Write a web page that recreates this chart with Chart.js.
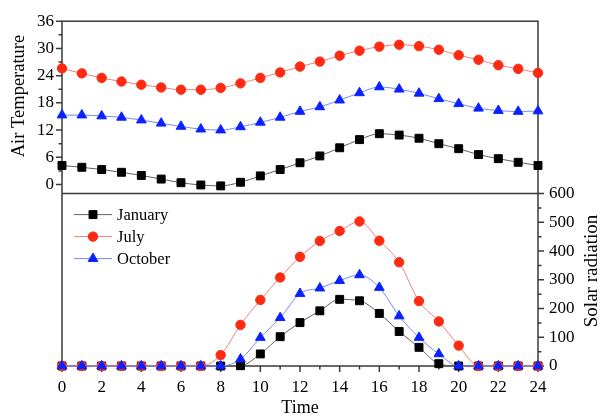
<!DOCTYPE html>
<html>
<head>
<meta charset="utf-8">
<script src="https://cdn.jsdelivr.net/npm/chart.js@4.4.1/dist/chart.umd.min.js"></script>
<style>
  html, body { margin: 0; padding: 0; background: #fff; }
  #wrap { width: 605px; height: 417px; }
</style>
</head>
<body>
<div id="wrap"><canvas id="chart" width="605" height="417"></canvas></div>
<script>
// Values
const hours = [0, 1, 2, 3, 4, 5, 6, 7, 8, 9, 10, 11, 12, 13, 14, 15, 16, 17, 18, 19, 20, 21, 22, 23, 24];
const hourTicks = [0, 2, 4, 6, 8, 10, 12, 14, 16, 18, 20, 22, 24];
const tempTicks = [0, 6, 12, 18, 24, 30, 36];
const radTicks = [0, 100, 200, 300, 400, 500, 600];
const seriesNames = ['January', 'July', 'October'];

const janTemp = [4.2, 3.8, 3.3, 2.7, 2.0, 1.2, 0.4, -0.1, -0.3, 0.5, 1.9, 3.3, 4.8, 6.3, 8.1, 9.9, 11.2, 10.9, 10.2, 9.0, 7.9, 6.6, 5.7, 4.9, 4.2];
const julTemp = [25.6, 24.5, 23.5, 22.7, 22.0, 21.4, 20.9, 20.9, 21.3, 22.3, 23.5, 24.7, 26.0, 27.1, 28.4, 29.5, 30.4, 30.8, 30.5, 29.7, 28.5, 27.5, 26.3, 25.5, 24.6];
const octTemp = [15.3, 15.3, 15.1, 14.8, 14.2, 13.5, 12.8, 12.2, 12.0, 12.7, 13.7, 14.8, 16.1, 17.1, 18.6, 20.2, 21.5, 21.0, 20.1, 18.9, 17.8, 16.8, 16.3, 16.1, 16.2];

const janRad = [0, 0, 0, 0, 0, 0, 0, 0, 0, 1, 42, 102, 151, 192, 232, 227, 183, 120, 65, 8, 0, 0, 0, 0, 0];
const julRad = [0, 0, 0, 0, 0, 0, 0, 0, 38, 143, 230, 308, 380, 435, 470, 503, 436, 361, 226, 155, 71, 0, 0, 0, 0];
const octRad = [0, 0, 0, 0, 0, 0, 0, 0, 0, 24, 99, 168, 252, 271, 297, 317, 273, 174, 99, 42, 0, 0, 0, 0, 0];

const FONT = "'Liberation Serif', 'Times New Roman', serif";
const AXIS_COLOR = '#3a3a3a';

const styles = [
    { pointStyle: 'rect', radius: 5.6, color: '#000000', line: '#606060', order: 2 },
    { pointStyle: 'circle', radius: 4.7, color: '#ff2a12', line: '#f08078', order: 1 },
    { pointStyle: 'triangle', radius: 5.6, color: '#0a22ff', line: '#7585ff', order: 0 },
];

function toPoints(values) {
    return hours.map((h, i) => ({ x: h, y: values[i] }));
}

function makeDataset(i, values, axisId) {
    const st = styles[i];
    return {
        label: seriesNames[i],
        data: toPoints(values),
        yAxisID: axisId,
        order: st.order,
        borderColor: st.line,
        borderWidth: 1,
        pointStyle: st.pointStyle,
        pointRadius: st.radius,
        pointBackgroundColor: st.color,
        pointBorderColor: st.color,
        pointBorderWidth: 1,
        cubicInterpolationMode: 'monotone',
        clip: false,
    };
}

// frame, separator line and tick marks (major + minor)
const framePlugin = {
    id: 'frame',
    beforeDatasetsDraw(chart) {
        const { ctx, chartArea: a, scales } = chart;
        const mid = scales.yTemp.bottom;
        ctx.save();
        ctx.strokeStyle = AXIS_COLOR;
        ctx.lineWidth = 1.5;
        ctx.strokeRect(a.left, a.top, a.right - a.left, a.bottom - a.top);
        ctx.beginPath();
        ctx.moveTo(a.left, mid);
        ctx.lineTo(a.right, mid);

        for (let v = 0; v <= 36; v += 3) {
            const y = scales.yTemp.getPixelForValue(v);
            const len = v % 6 === 0 ? 6 : 3.5;
            ctx.moveTo(a.left - len, y);
            ctx.lineTo(a.left, y);
        }
        for (let v = 0; v <= 600; v += 50) {
            const y = scales.yRad.getPixelForValue(v);
            const len = v % 100 === 0 ? 6 : 3.5;
            ctx.moveTo(a.right, y);
            ctx.lineTo(a.right + len, y);
        }
        for (let h = 0; h <= 24; h += 1) {
            const x = scales.x.getPixelForValue(h);
            const len = h % 2 === 0 ? 6 : 3.5;
            ctx.moveTo(x, a.bottom);
            ctx.lineTo(x, a.bottom + len);
        }
        ctx.stroke();
        ctx.restore();
    }
};

// legend inside the lower panel, plus the two rotated axis titles
const textPlugin = {
    id: 'texts',
    afterDraw(chart) {
        const { ctx, chartArea: a, scales } = chart;
        ctx.save();
        const top = scales.yRad.top;
        seriesNames.forEach((name, i) => {
            const st = styles[i];
            const y = top + 21 + i * 22;
            const x0 = a.left + 12;
            ctx.strokeStyle = st.line;
            ctx.lineWidth = 1;
            ctx.beginPath();
            ctx.moveTo(x0, y);
            ctx.lineTo(x0 + 38, y);
            ctx.stroke();
            ctx.fillStyle = st.color;
            ctx.strokeStyle = st.color;
            Chart.helpers.drawPoint(ctx, { pointStyle: st.pointStyle, radius: st.radius, rotation: 0, borderWidth: 1 }, x0 + 19, y);
            ctx.fillStyle = '#000';
            ctx.font = '16.5px ' + FONT;
            ctx.textBaseline = 'middle';
            ctx.textAlign = 'left';
            ctx.fillText(name, x0 + 43, y + 1);
        });

        ctx.fillStyle = '#000';
        ctx.textAlign = 'center';
        ctx.textBaseline = 'alphabetic';
        ctx.font = '18.5px ' + FONT;
        ctx.translate(24, 96);
        ctx.rotate(-Math.PI / 2);
        ctx.fillText('Air Temperature', 0, 0);
        ctx.setTransform(1, 0, 0, 1, 0, 0);
        ctx.font = '19px ' + FONT;
        ctx.translate(596.5, 271);
        ctx.rotate(-Math.PI / 2);
        ctx.fillText('Solar radiation', 0, 0);
        ctx.restore();
    }
};

const tickFont = { family: FONT, size: 17 };
const hidden = {
    ticks: { display: false },
    grid: { display: false, drawTicks: false },
    border: { display: false },
};

const config = {
    type: 'line',
    data: {
        datasets: [
            makeDataset(0, janTemp, 'yTemp'),
            makeDataset(1, julTemp, 'yTemp'),
            makeDataset(2, octTemp, 'yTemp'),
            makeDataset(0, janRad, 'yRad'),
            makeDataset(1, julRad, 'yRad'),
            makeDataset(2, octRad, 'yRad'),
        ]
    },
    options: {
        responsive: false,
        animation: false,
        devicePixelRatio: 1,
        layout: { padding: { top: 15, left: 0, right: 0, bottom: 0 } },
        plugins: { legend: { display: false }, tooltip: { enabled: false } },
        scales: {
            x: {
                type: 'linear', position: 'bottom', min: 0, max: 24,
                afterBuildTicks: s => { s.ticks = hourTicks.map(v => ({ value: v })); },
                afterFit: s => { s.height = 51; },
                grid: { display: false, drawTicks: false },
                border: { display: false },
                ticks: { font: tickFont, color: '#000', padding: 11, maxRotation: 0, autoSkip: false },
                title: { display: true, text: 'Time', font: { family: FONT, size: 18, lineHeight: 1 }, color: '#000', padding: 0 },
            },
            yRadLeft: {
                type: 'linear', position: 'left', stack: 'left', stackWeight: 1, min: 0, max: 600,
                afterFit: s => { s.width = 62; },
                ...hidden,
            },
            yTemp: {
                type: 'linear', position: 'left', stack: 'left', stackWeight: 1, min: -2, max: 36,
                afterBuildTicks: s => { s.ticks = tempTicks.map(v => ({ value: v })); },
                afterFit: s => { s.width = 62; },
                grid: { display: false, drawTicks: false },
                border: { display: false },
                ticks: { font: tickFont, color: '#000', padding: 8, autoSkip: false },
            },
            yTempRight: {
                type: 'linear', position: 'right', stack: 'right', stackWeight: 1, min: -2, max: 36,
                afterFit: s => { s.width = 67; },
                ...hidden,
            },
            yRad: {
                type: 'linear', position: 'right', stack: 'right', stackWeight: 1, min: 0, max: 600,
                afterBuildTicks: s => { s.ticks = radTicks.map(v => ({ value: v })); },
                afterFit: s => { s.width = 67; },
                grid: { display: false, drawTicks: false },
                border: { display: false },
                ticks: { font: tickFont, color: '#000', padding: 11, autoSkip: false },
            },
        }
    },
    plugins: [framePlugin, textPlugin]
};

new Chart(document.getElementById('chart'), config);
</script>
</body>
</html>
